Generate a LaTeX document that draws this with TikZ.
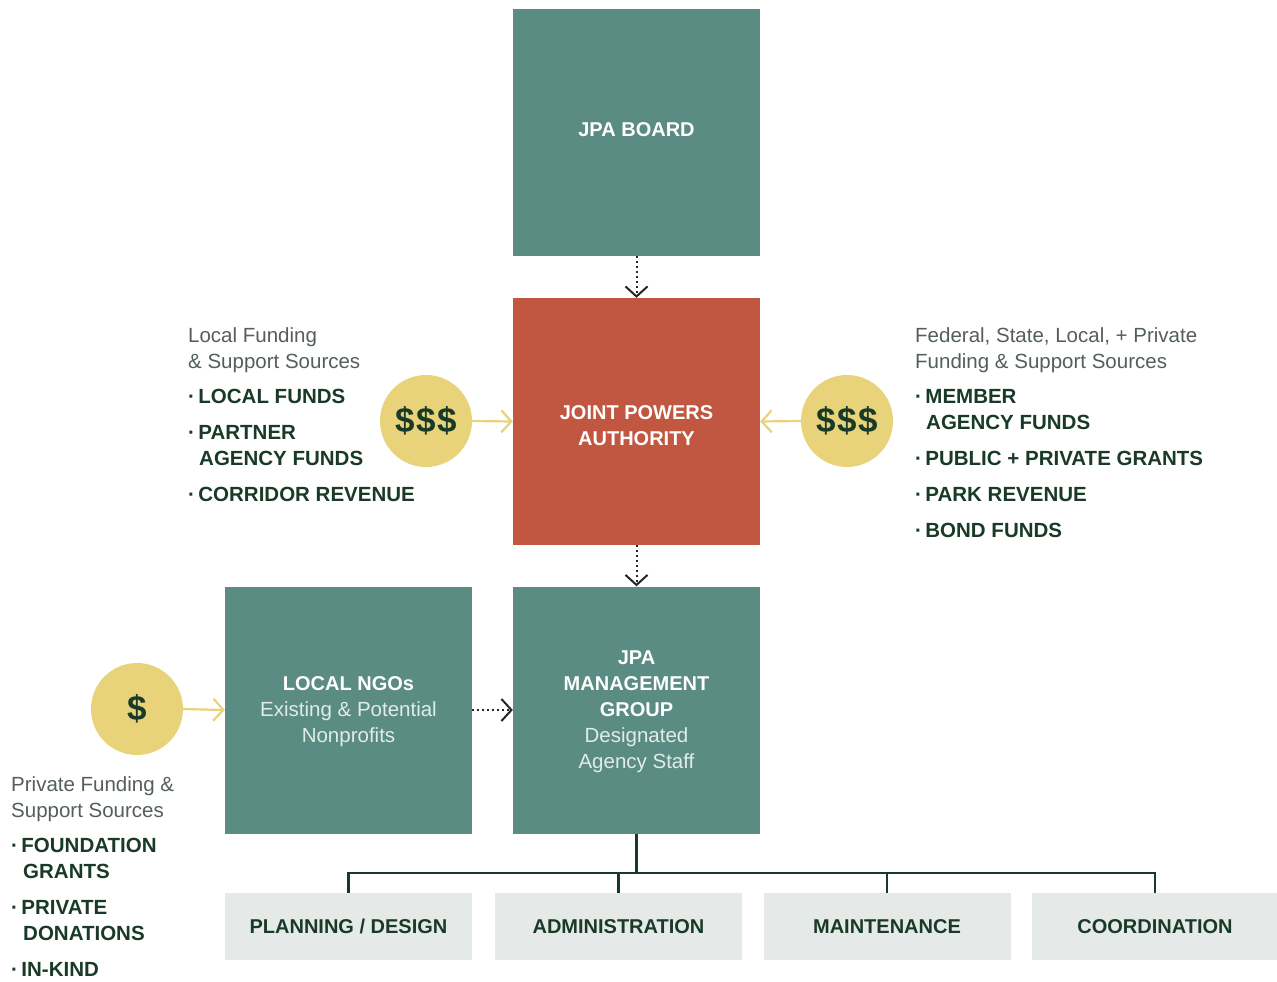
\documentclass[tikz,border=0pt]{standalone}
\usepackage{fontspec}
\setmainfont{Liberation Sans}
\usetikzlibrary{arrows.meta}
\definecolor{teal}{RGB}{90,140,131}
\definecolor{jred}{RGB}{193,87,64}
\definecolor{gold}{RGB}{233,211,122}
\definecolor{dgreen}{RGB}{26,58,40}
\definecolor{lgray}{RGB}{229,234,233}
\definecolor{ltext}{RGB}{85,95,90}
\definecolor{boxlight}{RGB}{225,236,232}
\newcommand{\softl}[1]{{\fontsize{20.5}{27}\selectfont\mdseries\color{boxlight}#1}}
\begin{document}
\begin{tikzpicture}[x=1pt,y=-1pt,
  bigbox/.style={minimum width=247pt,minimum height=247pt,inner sep=0pt},
  boxtext/.style={inner sep=0pt,align=center,text=white,
    font=\fontsize{20}{26}\selectfont\bfseries},
  subbox/.style={fill=lgray,minimum width=247pt,minimum height=67pt,inner sep=0pt,text=dgreen,
    font=\fontsize{20}{24}\selectfont\bfseries},
  coin/.style={circle,fill=gold,minimum size=92pt,inner sep=0pt,text=dgreen,
    font=\fontsize{35}{35}\selectfont\bfseries},
  dotarrow/.style={draw=black!85,line width=2pt,dash pattern=on 2pt off 3pt,
    -{Straight Barb[length=10pt,width=22pt,line width=2pt]}},
  goldarrow/.style={draw=gold,line width=2.2pt,
    -{Straight Barb[length=10pt,width=22pt,line width=2.2pt]}},
  treeline/.style={draw=dgreen,line width=2.2pt},
  lighttxt/.style={anchor=base west,inner sep=0pt,text=ltext,font=\fontsize{20.5}{24}\selectfont},
  boldtxt/.style={anchor=base west,inner sep=0pt,text=dgreen,font=\fontsize{20.5}{24}\selectfont\bfseries}
]
\useasboundingbox (0,0) rectangle (1277,982);
\fill[white] (0,0) rectangle (1277,982);

% main boxes
\node[bigbox,fill=teal] (board) at (636.5,132.5) {};
\node[bigbox,fill=jred] (jpa) at (636.5,421.5) {};
\node[bigbox,fill=teal] (mgmt) at (636.5,710) {};
\node[bigbox,fill=teal] (ngo) at (348.5,710) {};

\node[boxtext] (boardt) at (636.5,130) {JPA BOARD};
\node[boxtext] (jpat) at (636.5,426) {JOINT POWERS\\AUTHORITY};
\node[boxtext] (mgmtt) at (636.5,712) {JPA\\MANAGEMENT\\GROUP\\\softl{Designated}\\\softl{Agency Staff}};
\node[boxtext] (ngot) at (348.5,712) {LOCAL NGOs\\\softl{Existing \& Potential}\\\softl{Nonprofits}};

% dotted arrows
\draw[dotarrow] (board.south) -- (jpa.north);
\draw[dotarrow] (jpa.south) -- (mgmt.north);
\draw[dotarrow] (ngo.east) -- (mgmt.west);

% coins
\node[coin] (cl) at (426,421) {\$\kern1.5pt\$\kern1.5pt\$};
\node[coin] (cr) at (847,421) {\$\kern1.5pt\$\kern1.5pt\$};
\node[coin] (cs) at (137,709) {\$};
\draw[goldarrow] (cl.east) -- (jpa.west);
\draw[goldarrow] (cr.west) -- (jpa.east);
\draw[goldarrow] (cs.east) -- (ngo.west);

% bottom boxes
\node[subbox] (plan) at (348.5,926.5) {PLANNING / DESIGN};
\node[subbox] (admin) at (618.5,926.5) {ADMINISTRATION};
\node[subbox] (maint) at (887,926.5) {MAINTENANCE};
\node[subbox] (coord) at (1155,926.5) {COORDINATION};

\coordinate (bus) at (637,873);
\draw[treeline] (mgmt.south) -- (mgmt.south |- bus);
\draw[treeline] (plan.north) |- (bus) -| (coord.north);
\draw[treeline] (admin.north) -- (admin.north |- bus);
\draw[treeline] (maint.north) -- (maint.north |- bus);

% left text
\node[lighttxt] (l1) at (188,342) {Local Funding};
\node[lighttxt] (l2) at (188,368) {\& Support Sources};
\node[boldtxt] (l3) at (188,403) {·\,LOCAL FUNDS};
\node[boldtxt] (l4) at (188,439) {·\,PARTNER};
\node[boldtxt] (l5) at (199,465) {AGENCY FUNDS};
\node[boldtxt] (l6) at (188,501) {·\,CORRIDOR REVENUE};

% right text
\node[lighttxt] (r1) at (915,342) {Federal, State, Local, + Private};
\node[lighttxt] (r2) at (915,368) {Funding \& Support Sources};
\node[boldtxt] (r3) at (915,403) {·\,MEMBER};
\node[boldtxt] (r4) at (926,429) {AGENCY FUNDS};
\node[boldtxt] (r5) at (915,465) {·\,PUBLIC + PRIVATE GRANTS};
\node[boldtxt] (r6) at (915,501) {·\,PARK REVENUE};
\node[boldtxt] (r7) at (915,537) {·\,BOND FUNDS};

% bottom-left text
\node[lighttxt] (p1) at (11,791) {Private Funding \&};
\node[lighttxt] (p2) at (11,817) {Support Sources};
\node[boldtxt] (p3) at (11,852) {·\,FOUNDATION};
\node[boldtxt] (p4) at (23,878) {GRANTS};
\node[boldtxt] (p5) at (11,914) {·\,PRIVATE};
\node[boldtxt] (p6) at (23,940) {DONATIONS};
\node[boldtxt] (p7) at (11,976) {·\,IN-KIND};
\end{tikzpicture}
\end{document}
